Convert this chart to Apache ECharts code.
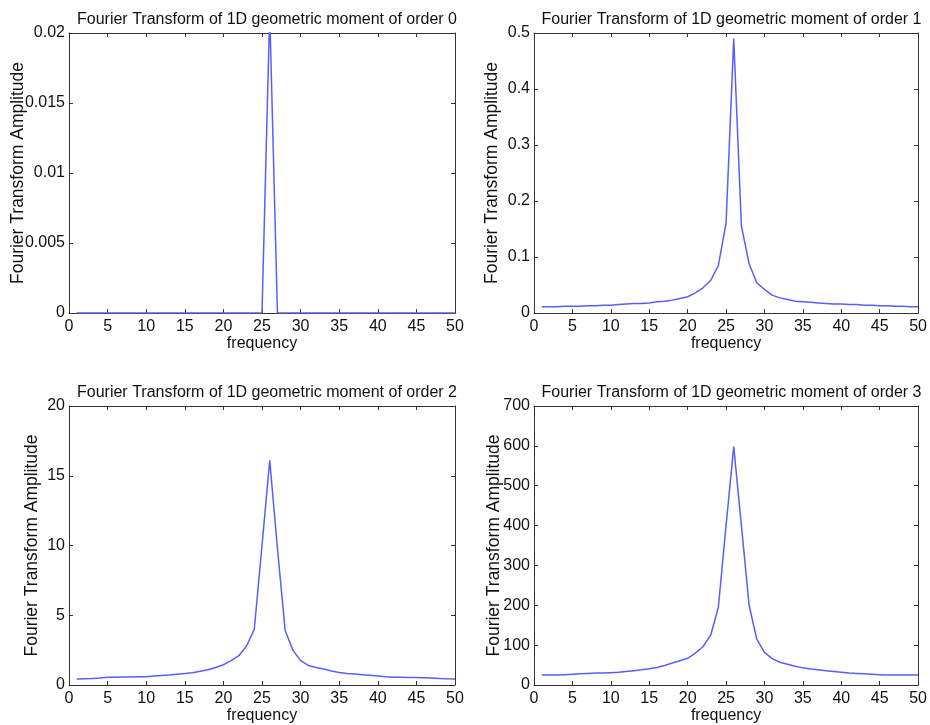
<!DOCTYPE html>
<html>
<head>
<meta charset="utf-8">
<script src="https://cdn.jsdelivr.net/npm/echarts@6/dist/echarts.min.js"></script>
<style>
html,body{margin:0;padding:0;background:#fff;}
#chart{width:930px;height:725px;}
</style>
</head>
<body>
<div id="chart"></div>
<script>
// ---- data ----
var freq = [1,2,3,4,5,6,7,8,9,10,11,12,13,14,15,16,17,18,19,20,21,22,23,24,25,26,27,28,29,30,31,32,33,34,35,36,37,38,39,40,41,42,43,44,45,46,47,48,49,50];

var order0 = [0,0,0,0,0,0,0,0,0,0,0,0,0,0,0,0,0,0,0,0,0,0,0,0,0,0.0215,0,0,0,0,0,0,0,0,0,0,0,0,0,0,0,0,0,0,0,0,0,0,0,0];

var order1 = [0.011,0.011,0.011,0.012,0.012,0.012,0.013,0.013,0.014,0.014,
              0.015,0.016,0.017,0.017,0.018,0.020,0.021,0.023,0.026,0.029,
              0.036,0.045,0.058,0.085,0.160,0.490,0.155,0.088,0.054,0.042,
              0.032,0.027,0.024,0.021,0.020,0.019,0.018,0.017,0.016,0.016,
              0.015,0.015,0.014,0.014,0.013,0.013,0.012,0.012,0.011,0.011];

var order2 = [0.43,0.45,0.47,0.50,0.55,0.56,0.57,0.58,0.59,0.60,
              0.64,0.68,0.72,0.77,0.82,0.88,0.98,1.10,1.25,1.45,
              1.75,2.10,2.80,4.00,10.0,16.1,9.8,3.90,2.50,1.75,
              1.40,1.25,1.15,1.00,0.90,0.82,0.78,0.74,0.70,0.65,
              0.60,0.56,0.55,0.54,0.53,0.52,0.50,0.46,0.44,0.43];

var order3 = [25,25,25,26,27,28,29,30,30,31,
              32,34,36,38,41,44,49,55,61,67,
              80,96,125,195,400,598,400,200,115,82,
              66,57,52,47,43,40,38,36,34,32,
              30,29,28,27,26,25,25,25,25,25];

var titles = ['Fourier Transform of 1D geometric moment of order 0',
              'Fourier Transform of 1D geometric moment of order 1',
              'Fourier Transform of 1D geometric moment of order 2',
              'Fourier Transform of 1D geometric moment of order 3'];
var yMax = [0.02, 0.5, 20, 700];
var yStep = [0.005, 0.1, 5, 100];
var xName = 'frequency';
var yName = 'Fourier Transform Amplitude';

// ---- layout ----
var FONT = "'Liberation Sans', Arial, Helvetica, sans-serif";
var grids = [
  {left: 69, top: 33, width: 386, height: 280},
  {left: 534, top: 33, width: 385, height: 280},
  {left: 69, top: 406, width: 386, height: 280},
  {left: 534, top: 406, width: 385, height: 280}
];
var yNameGap = [42, 33, 28, 31];
var seriesData = [order0, order1, order2, order3];
var axisColor = '#333';
var textColor = '#111';

function pairs(xs, ys) { return xs.map(function (x, i) { return [x, ys[i]]; }); }

var option = {
  backgroundColor: '#fff',
  animation: false,
  title: [], grid: [], xAxis: [], yAxis: [], series: []
};

grids.forEach(function (g, i) {
  option.grid.push({left: g.left, top: g.top, width: g.width, height: g.height, containLabel: false});
  option.title.push({
    text: titles[i], left: g.left + g.width / 2, top: g.top - 26, textAlign: 'center',
    textStyle: {fontFamily: FONT, fontSize: 16, fontWeight: 'normal', color: textColor}
  });
  var common = {
    gridIndex: i, type: 'value', min: 0,
    axisLine: {show: true, onZero: false, lineStyle: {color: axisColor, width: 1}},
    axisTick: {show: true, inside: true, length: 4, lineStyle: {color: axisColor}},
    splitLine: {show: false}
  };
  option.xAxis.push(Object.assign({}, common, {
    position: 'bottom', max: 50, interval: 5,
    name: xName, nameLocation: 'middle', nameGap: 23, nameMoveOverlap: false,
    nameTextStyle: {fontFamily: FONT, fontSize: 16, color: textColor},
    axisLabel: {fontFamily: FONT, fontSize: 16, color: textColor, margin: 6}
  }));
  option.xAxis.push(Object.assign({}, common, {
    position: 'top', max: 50, interval: 5, axisLabel: {show: false}
  }));
  option.yAxis.push(Object.assign({}, common, {
    position: 'left', max: yMax[i], interval: yStep[i],
    name: yName, nameLocation: 'middle', nameGap: yNameGap[i], nameRotate: 90,
    nameMoveOverlap: false,
    nameTextStyle: {fontFamily: FONT, fontSize: 17.5, color: textColor},
    axisLabel: {fontFamily: FONT, fontSize: 16, color: textColor, margin: 4}
  }));
  option.yAxis.push(Object.assign({}, common, {
    position: 'right', max: yMax[i], interval: yStep[i], axisLabel: {show: false}
  }));
  option.series.push({
    type: 'line', xAxisIndex: 2 * i, yAxisIndex: 2 * i,
    data: pairs(freq, seriesData[i]),
    showSymbol: false, symbol: 'none', clip: true,
    lineStyle: {color: '#5c5cff', width: 1.5},
    z: 1
  });
});

var chart = echarts.init(document.getElementById('chart'), null, {renderer: 'canvas'});
chart.setOption(option);
</script>
</body>
</html>
